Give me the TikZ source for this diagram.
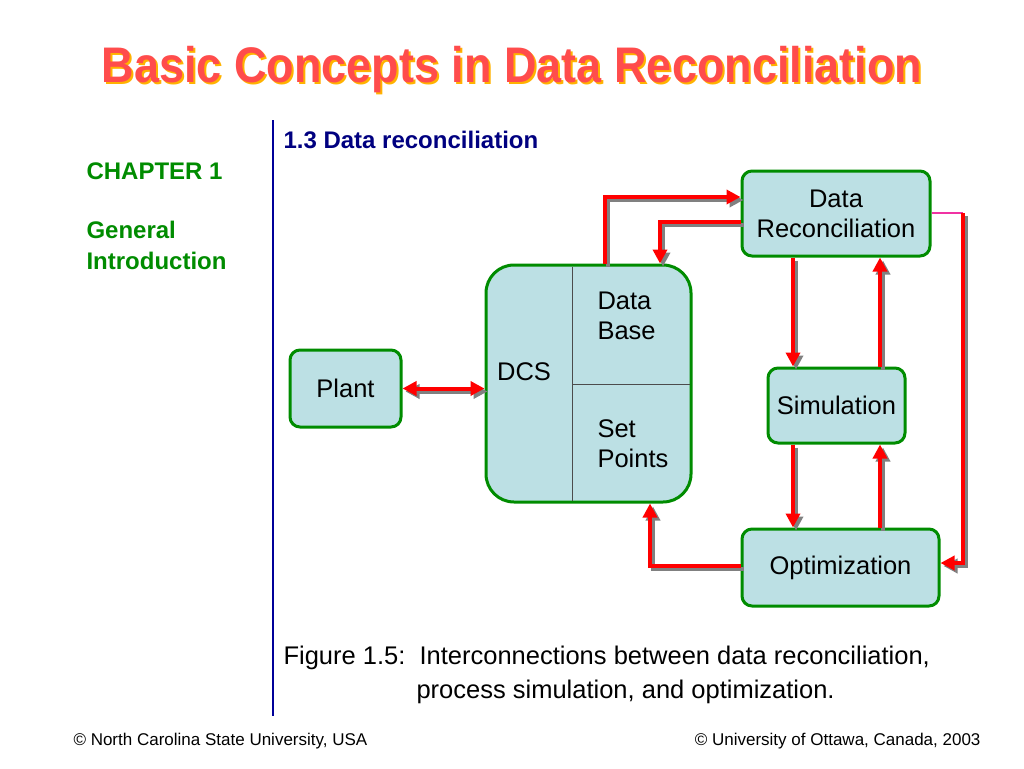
\documentclass[tikz,border=0pt]{standalone}
\usepackage{fontspec}
\setmainfont{Liberation Sans}
\begin{document}
\begin{tikzpicture}[x=1pt,y=-1pt,
  box/.style={draw=green!55!black,line width=3pt,fill={rgb,255:red,188;green,224;blue,228},rounded corners=10pt,font=\fontsize{25.5}{30}\selectfont,align=center},
  ar/.style={draw=red,line width=4pt,-{Triangle[length=14pt,width=14pt]},preaction={draw=gray,line width=4pt,transform canvas={xshift=3pt,yshift=-3pt}}}]
\usetikzlibrary{arrows.meta}
\useasboundingbox (0,0) rectangle (1024,768);
\fill[white] (0,0) rectangle (1024,768);
\node[font=\bfseries\fontsize{50}{55}\selectfont,text=orange!60!yellow,xscale=0.9] at (514,72) {Basic Concepts in Data Reconciliation};
\node (title) [font=\bfseries\fontsize{50}{55}\selectfont,text=red!70!white,xscale=0.9] at (512,70) {Basic Concepts in Data Reconciliation};
\draw[blue!60!black,line width=1.5pt] (273,120) -- (273,716);
\node (sec) [anchor=west,font=\bfseries\fontsize{24}{28}\selectfont,text=blue!50!black] at (280,140) {1.3 Data reconciliation};
\node (ch) [anchor=west,font=\bfseries\fontsize{24}{28}\selectfont,text=green!55!black] at (83,171) {CHAPTER 1};
\node (gi) [anchor=north west,align=left,font=\bfseries\fontsize{24}{31}\selectfont,text=green!55!black] at (83,218) {General\\Introduction};
\node (plant) [box,minimum width=111pt,minimum height=77pt] at (345.5,388.5) {Plant};
\node (dcs) [box,rounded corners=28pt,minimum width=205pt,minimum height=237pt] at (588.5,383.5) {};
\draw[black!70,line width=1pt] (572,266.5) -- (572,500.5) (572,384) -- (689.5,384);
\node (dcst) [font=\fontsize{25.5}{30}\selectfont] at (524,372) {DCS};
\node (db) [anchor=north west,align=left,font=\fontsize{25.5}{30}\selectfont] at (594,288) {Data\\Base};
\node (sp) [anchor=north west,align=left,font=\fontsize{25.5}{30}\selectfont] at (594,416) {Set\\Points};
\node (dr) [box,minimum width=188pt,minimum height=85pt] at (836,213.5) {Data\\Reconciliation};
\node (sim) [box,minimum width=137pt,minimum height=75pt] at (836.5,405.5) {Simulation};
\node (opt) [box,minimum width=197pt,minimum height=77pt] at (840.5,567.5) {Optimization};
\coordinate (c1) at (605,197); \coordinate (c2) at (660,222);
\coordinate (c3) at (650,566); \coordinate (c4) at (963,213); \coordinate (c5) at (963,563);
\draw[ar] (dcs.north -| c1) -- (c1) -- (dr.west |- c1);
\draw[ar] (dr.west |- c2) -- (c2) -- (dcs.north -| c2);
\draw[ar] ([xshift=-43pt]dr.south) -- ([xshift=-43.5pt]sim.north);
\draw[ar] ([xshift=43.5pt]sim.north) -- ([xshift=44pt]dr.south);
\draw[ar] ([xshift=-43.5pt]sim.south) -- ([xshift=-47.5pt]opt.north);
\draw[ar] ([xshift=39.5pt]opt.north) -- ([xshift=43.5pt]sim.south);
\draw[ar] (opt.west |- c3) -- (c3) -- (dcs.south -| c3);
\draw[magenta!80!white,line width=2pt] (dr.east |- c4) -- (c4);
\draw[ar] (c4) -- (c5) -- (opt.east |- c5);
\draw[ar,{Triangle[length=14pt,width=14pt]}-{Triangle[length=14pt,width=14pt]}] (plant.east) -- (dcs.west |- plant.east);
\node (cap1) [anchor=west,font=\fontsize{25.5}{30}\selectfont] at (280,658) {Figure 1.5:\ \ Interconnections between data reconciliation,};
\node (cap2) [anchor=west,font=\fontsize{25.5}{30}\selectfont] at (413,692) {process simulation, and optimization.};
\node (f1) [anchor=west,font=\fontsize{17}{20}\selectfont] at (70,741) {© North Carolina State University, USA};
\node (f2) [anchor=east,font=\fontsize{17}{20}\selectfont] at (984,741) {© University of Ottawa, Canada, 2003};
\end{tikzpicture}
\end{document}
